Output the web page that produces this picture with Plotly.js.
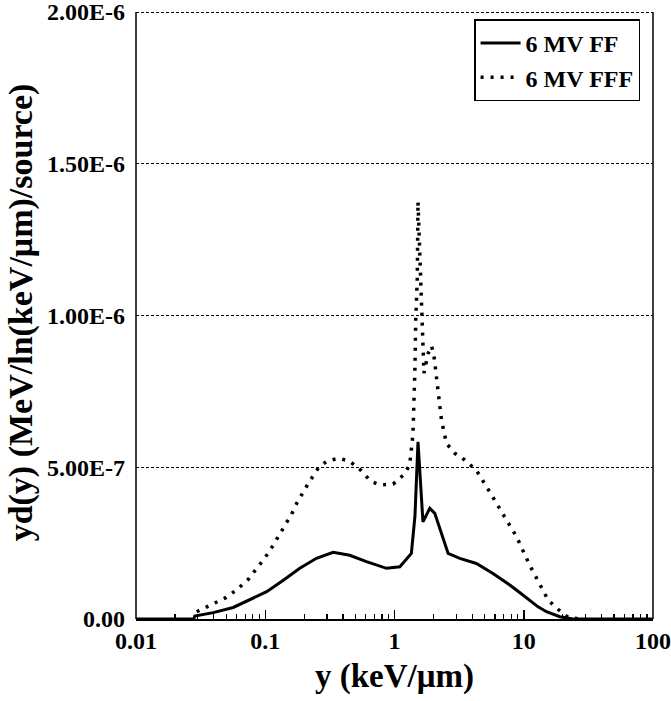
<!DOCTYPE html>
<html>
<head>
<meta charset="utf-8">
<script src="https://cdn.plot.ly/plotly-3.0.1.min.js"></script>
<style>html,body{margin:0;padding:0;background:#fff}#chart{width:671px;height:701px}</style>
</head>
<body>
<div id="chart"></div>
<script>
// 6 MV FF (solid)
const ffX = [0.01, 0.028, 0.0285, 0.031, 0.0396, 0.0565, 0.0758, 0.1026, 0.138, 0.185, 0.249, 0.335, 0.45, 0.607, 0.867, 1.10, 1.35, 1.44, 1.52, 1.59, 1.66, 1.875, 2.05, 2.31, 2.60, 3.2, 4.3, 5.78, 7.8, 9.85, 12.9, 15.0, 19.0, 24, 100];
const ffY = [0, 0, 1.0e-8, 1.3e-8, 2.1e-8, 3.8e-8, 6.3e-8, 9.0e-8, 1.28e-7, 1.67e-7, 2.0e-7, 2.2e-7, 2.1e-7, 1.89e-7, 1.67e-7, 1.72e-7, 2.16e-7, 3.4e-7, 5.84e-7, 4.3e-7, 3.2e-7, 3.65e-7, 3.48e-7, 2.82e-7, 2.16e-7, 2.0e-7, 1.83e-7, 1.5e-7, 1.12e-7, 7.9e-8, 4.0e-8, 2.4e-8, 7.6e-9, 0, 0];
// 6 MV FFF (dotted)
const fffX = [0.0295, 0.0409, 0.05, 0.06, 0.074, 0.086, 0.1, 0.114, 0.128, 0.144, 0.16, 0.175, 0.194, 0.219, 0.26, 0.3, 0.37, 0.45, 0.55, 0.65, 0.77, 0.976, 1.17, 1.31, 1.39, 1.42, 1.44, 1.46, 1.50, 1.52, 1.57, 1.60, 1.65, 1.69, 1.82, 1.93, 2.01, 2.17, 2.31, 2.52, 2.93, 3.5, 4.3, 5.45, 6.9, 8.8, 11.1, 12.5, 15.4, 18.4, 22, 27];
const fffY = [2.4e-8, 5.2e-8, 7.1e-8, 9.6e-8, 1.31e-7, 1.67e-7, 2.03e-7, 2.4e-7, 2.77e-7, 3.12e-7, 3.46e-7, 3.81e-7, 4.16e-7, 4.52e-7, 5.0e-7, 5.2e-7, 5.3e-7, 5.2e-7, 4.9e-7, 4.55e-7, 4.41e-7, 4.45e-7, 4.74e-7, 5.07e-7, 6.1e-7, 7.2e-7, 8.3e-7, 9.85e-7, 1.12e-6, 1.375e-6, 1.19e-6, 1.06e-6, 9.2e-7, 8.1e-7, 8.75e-7, 9.0e-7, 8.75e-7, 7.65e-7, 6.55e-7, 5.79e-7, 5.46e-7, 5.24e-7, 4.9e-7, 4.19e-7, 3.48e-7, 2.71e-7, 1.78e-7, 1.34e-7, 6.3e-8, 3.2e-8, 5.6e-9, 0];

const xTickVals = [0.01, 0.1, 1, 10, 100];
const xTickText = ['0.01', '0.1', '1', '10', '100'];
const yTickVals = [0, 5e-7, 1e-6, 1.5e-6, 2e-6];
const yTickText = ['0.00', '5.00E-7', '1.00E-6', '1.50E-6', '2.00E-6'];
const seriesNames = ['6 MV FF', '6 MV FFF'];
const yMax = 2e-6;

const minorVals = [];
for (let p = -2; p < 2; p++) for (let d = 2; d <= 9; d++) minorVals.push(d * Math.pow(10, p));

const FONT = 'Liberation Serif, Times New Roman, serif';

const traces = [
  {x: ffX, y: ffY, name: seriesNames[0], mode: 'lines', type: 'scatter',
   line: {color: '#000', width: 3}},
  {x: fffX, y: fffY, name: seriesNames[1], mode: 'lines', type: 'scatter',
   line: {color: '#000', width: 3.5, dash: '3px,7px'}}
];

const layout = {
  width: 671, height: 701,
  margin: {l: 136, r: 18, t: 6, b: 82},
  paper_bgcolor: '#fff', plot_bgcolor: '#fff',
  font: {family: FONT, color: '#000'},
  showlegend: true,
  legend: {
    x: 0.975, y: 0.978, xanchor: 'right', yanchor: 'top',
    bordercolor: '#000', borderwidth: 1.5, bgcolor: '#fff',
    font: {family: FONT, size: 24, weight: 'bold', color: '#000'},
    tracegroupgap: 0, itemwidth: 40
  },
  xaxis: {
    type: 'log', range: [-2, 2],
    tickmode: 'array', tickvals: xTickVals, ticktext: xTickText,
    ticks: 'inside', ticklen: 9, tickwidth: 1.5, tickcolor: '#000',
    minor: {tickmode: 'array', tickvals: minorVals, ticks: 'inside', ticklen: 5, tickwidth: 1.2, tickcolor: '#000', showgrid: false},
    showgrid: false, zeroline: false,
    showline: true, linecolor: '#000', linewidth: 1.5,
    tickfont: {family: FONT, size: 24, weight: 'bold', color: '#000'},
    title: {text: 'y (keV/μm)', font: {family: FONT, size: 33, weight: 'bold', color: '#000'}, standoff: 10}
  },
  yaxis: {
    range: [0, 2.02e-6],
    tickmode: 'array', tickvals: yTickVals, ticktext: yTickText,
    ticks: '', ticklabelstandoff: 10, ticklabeloverflow: 'allow',
    showgrid: true, gridcolor: '#000', gridwidth: 1, griddash: '3px,2px',
    zeroline: false, showline: false,
    tickfont: {family: FONT, size: 24, weight: 'bold', color: '#000'},
    title: {text: 'yd(y) (MeV/ln(keV/μm)/source)', font: {family: FONT, size: 34, weight: 'bold', color: '#000'}, standoff: 4}
  },
  shapes: [
    {type: 'line', xref: 'paper', yref: 'y', x0: 1, x1: 1, y0: 0, y1: yMax, line: {color: '#000', width: 1.5}},
    {type: 'line', xref: 'paper', yref: 'y', x0: 0, x1: 0, y0: 0, y1: yMax, line: {color: '#000', width: 1.5}}
  ]
};

Plotly.newPlot('chart', traces, layout, {displayModeBar: false, staticPlot: true});
</script>
</body>
</html>
